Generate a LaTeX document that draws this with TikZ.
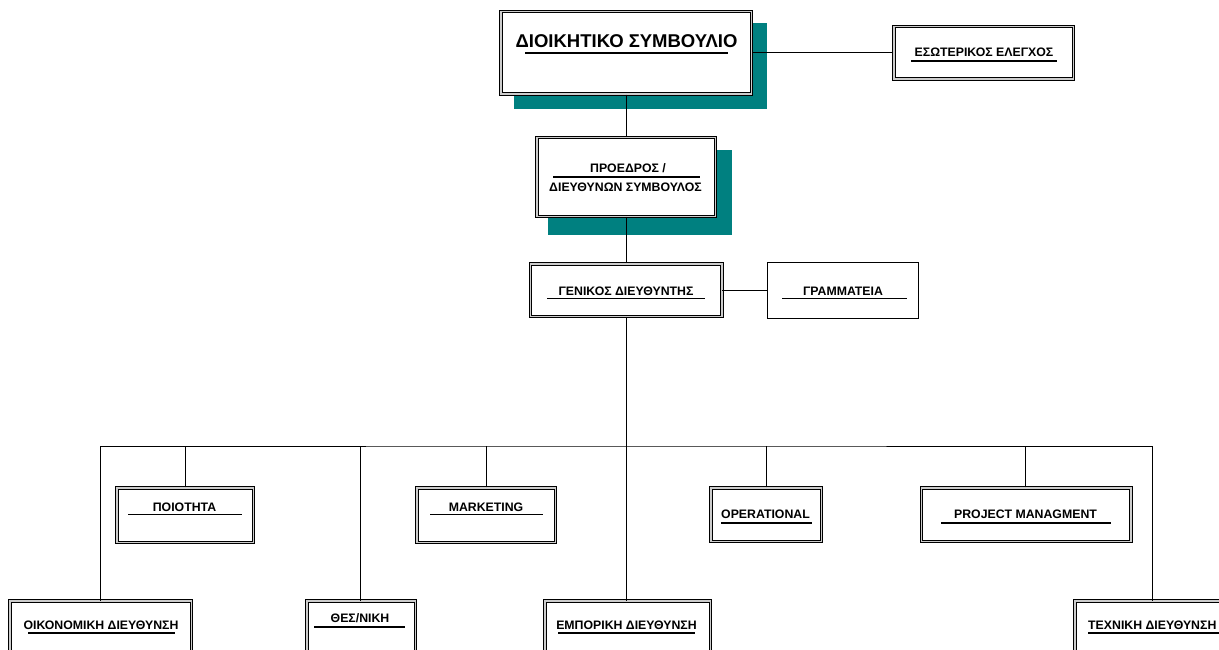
\documentclass[tikz,border=0pt]{standalone}
\usepackage{fontspec}
\setmainfont{Liberation Sans}
\definecolor{boardteal}{RGB}{0,128,128}

\begin{document}
\begin{tikzpicture}[x=1pt, y=-1pt,
    dbox/.style={draw, line width=1pt, double=gray!40, double distance=1.5pt, inner sep=0pt},
    sbox/.style={draw, line width=1pt, inner sep=0pt},
    shadowbox/.style={fill=boardteal, draw=none},
    lbl/.style={anchor=base, inner sep=0pt, font=\bfseries\fontsize{12.3}{14}\selectfont},
    biglbl/.style={anchor=base, inner sep=0pt, font=\bfseries\fontsize{18.5}{21}\selectfont},
    uline/.style={line width=1.2pt},
    conn/.style={line width=1pt}]
  \useasboundingbox (0,0) rectangle (1219,650);

  % shadows behind the two top boxes
  \fill[shadowbox] (514,23) rectangle (767,109);
  \fill[shadowbox] (548,150) rectangle (732,235);

  % top levels
  \node[dbox, fill=white, minimum width=250.5pt, minimum height=82.5pt] (board) at (626,53) {};
  \node[biglbl] (boardtxt) at (626.5,48) {ΔΙΟΙΚΗΤΙΚΟ ΣΥΜΒΟΥΛΙΟ};
  \draw[uline] (525,53) -- (728,53);

  \node[dbox, minimum width=179.5pt, minimum height=52.5pt] (audit) at (983.5,53) {};
  \node[lbl] (audittxt) at (984,57) {ΕΣΩΤΕΡΙΚΟΣ ΕΛΕΓΧΟΣ};
  \draw[uline] (911,61) -- (1057,61);

  \node[dbox, fill=white, minimum width=178.5pt, minimum height=78.5pt] (ceo) at (626,177) {};
  \node[lbl] (ceotxta) at (628,173) {ΠΡΟΕΔΡΟΣ /};
  \node[lbl] (ceotxtb) at (625.5,192) {ΔΙΕΥΘΥΝΩΝ ΣΥΜΒΟΥΛΟΣ};
  \draw[uline] (553,177) -- (700,177);

  \node[dbox, minimum width=191.5pt, minimum height=52.5pt] (gm) at (626,290) {};
  \node[lbl] (gmtxt) at (626,295) {ΓΕΝΙΚΟΣ ΔΙΕΥΘΥΝΤΗΣ};
  \draw[uline] (547,298.5) -- (705,298.5);

  \node[sbox, minimum width=151pt, minimum height=56pt] (secr) at (843,290) {};
  \node[lbl] (secrtxt) at (843,295) {ΓΡΑΜΜΑΤΕΙΑ};
  \draw[uline] (782,298.5) -- (907,298.5);

  % upper row of departments
  \node[dbox, minimum width=136.5pt, minimum height=54.5pt] (qual) at (185,515) {};
  \node[lbl] (qualtxt) at (184.5,511) {ΠΟΙΟΤΗΤΑ};
  \draw[uline] (128,514.5) -- (242,514.5);

  \node[dbox, minimum width=138.5pt, minimum height=54.5pt] (mkt) at (486,515) {};
  \node[lbl] (mkttxt) at (486,511) {MARKETING};
  \draw[uline] (430,514.5) -- (543,514.5);

  \node[dbox, minimum width=110.5pt, minimum height=53.5pt] (oper) at (766,514.5) {};
  \node[lbl] (opertxt) at (765.5,518) {OPERATIONAL};
  \draw[uline] (721,523) -- (812,523);

  \node[dbox, minimum width=209.5pt, minimum height=53.5pt] (proj) at (1026,514.5) {};
  \node[lbl] (projtxt) at (1025.5,518) {PROJECT MANAGMENT};
  \draw[uline] (941,523) -- (1111,523);

  % lower row of departments
  \node[dbox, minimum width=181.5pt, minimum height=60pt] (fin) at (100.5,631) {};
  \node[lbl] (fintxt) at (101,629) {ΟΙΚΟΝΟΜΙΚΗ ΔΙΕΥΘΥΝΣΗ};
  \draw[uline] (28,633) -- (175,633);

  \node[dbox, minimum width=108.5pt, minimum height=60pt] (thes) at (361,631) {};
  \node[lbl] (thestxt) at (360,622) {ΘΕΣ/ΝΙΚΗ};
  \draw[uline] (314,627) -- (405,627);

  \node[dbox, minimum width=165.5pt, minimum height=60pt] (sales) at (627.5,631) {};
  \node[lbl] (salestxt) at (626.5,629) {ΕΜΠΟΡΙΚΗ ΔΙΕΥΘΥΝΣΗ};
  \draw[uline] (558,633) -- (695,633);

  \node[dbox, minimum width=154.5pt, minimum height=60pt] (tech) at (1152,631) {};
  \node[lbl, anchor=base west] (techtxt) at (1088,629) {ΤΕΧΝΙΚΗ ΔΙΕΥΘΥΝΣΗ};
  \draw[uline] (1088,633) -- (1225,633);

  % connectors
  \coordinate (bus) at (626,446);
  \draw[conn] (board.east |- audit.west) -- (audit.west);
  \draw[conn] (board.south) -- (ceo.north);
  \draw[conn] (ceo.south) -- (gm.north);
  \draw[conn] (gm.east) -- (secr.west);
  \draw[conn] (gm.south) -- (gm.south |- sales.north);
  \draw[conn] (fin.north) |- (bus) -| (tech.north);
  \draw[conn] (qual.north) -- (qual.north |- bus);
  \draw[conn] (thes.north -| 360,0) -- (360,446);
  \draw[conn] (mkt.north) -- (mkt.north |- bus);
  \draw[conn] (oper.north) -- (oper.north |- bus);
  \draw[conn] (proj.north -| 1025,0) -- (1025,446);
\end{tikzpicture}
\end{document}
